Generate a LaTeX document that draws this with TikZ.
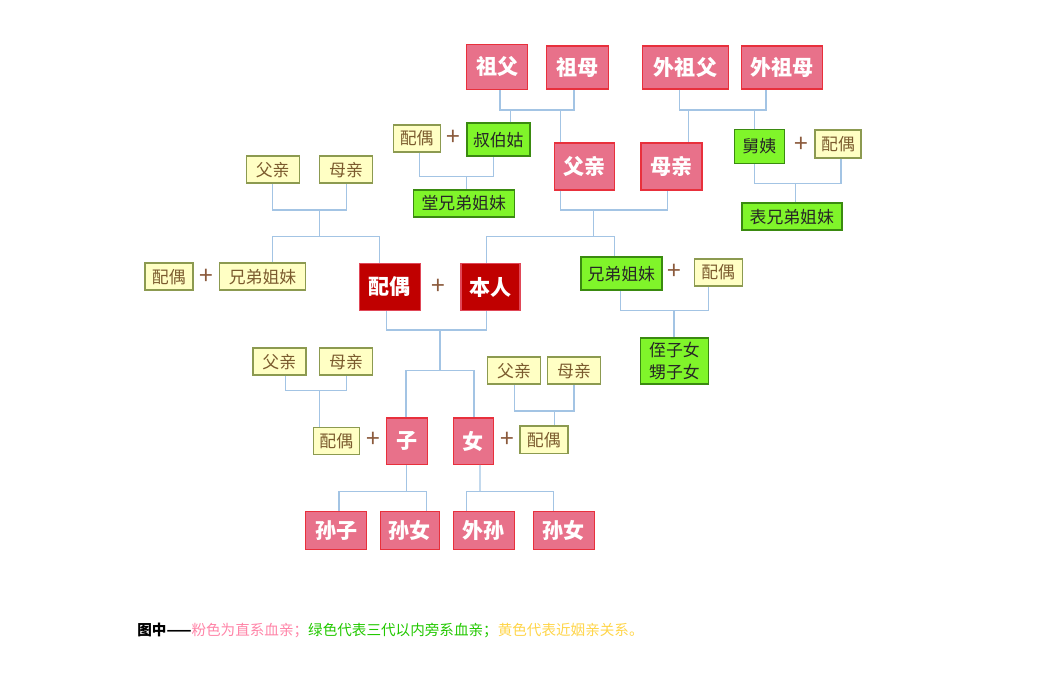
\documentclass[tikz,border=0pt]{standalone}
\usepackage{fontspec}
\setmainfont{Noto Sans CJK SC}
\usepackage{xcolor}
\usetikzlibrary{calc}

\definecolor{pinkfill}{HTML}{E8718A}
\definecolor{pinkline}{HTML}{E8303C}
\definecolor{redfill}{HTML}{C00000}
\definecolor{redline}{HTML}{E04858}
\definecolor{greenfill}{HTML}{80F52A}
\definecolor{greenline}{HTML}{3A8A10}
\definecolor{yellowfill}{HTML}{FFFFC4}
\definecolor{yellowline}{HTML}{8C9A50}
\definecolor{yellowtext}{HTML}{7B5B2E}
\definecolor{linkblue}{HTML}{A3C4E4}
\definecolor{plusbrown}{HTML}{8B5A3C}
\definecolor{notepink}{HTML}{FF85A8}
\definecolor{notegreen}{HTML}{22C800}
\definecolor{noteyellow}{HTML}{FFD54A}

\begin{document}
\begin{tikzpicture}[
    x=0.02cm, y=-0.02cm,
    sz/.style 2 args={minimum width=#1*0.02cm, minimum height=#2*0.02cm},
    base/.style={rectangle, draw, inner sep=0pt, line width=0.8pt, align=center},
    direct/.style={base, fill=pinkfill, draw=pinkline, text=white, font=\fontsize{12}{13}\selectfont\bfseries},
    self/.style={base, fill=redfill, draw=redline, text=white, font=\fontsize{12}{13}\selectfont\bfseries},
    kin/.style={base, fill=greenfill, draw=greenline, text=black!85, font=\fontsize{9.6}{11.2}\selectfont},
    inlaw/.style={base, fill=yellowfill, draw=yellowline, text=yellowtext, font=\fontsize{9.6}{11}\selectfont},
    plus/.style={text=plusbrown, inner sep=0pt, font=\fontsize{14}{14}\selectfont},
    link/.style={draw=linkblue, line width=0.8pt}
]
\useasboundingbox (0,0) rectangle (1051,689);

% Nodes: grandparents
\node[direct, sz={61}{45}] (zf) at (497.2,67) {祖父};
\node[direct, sz={62}{43}] (zm) at (577.5,67.5) {祖母};
\node[direct, sz={86}{43}] (wzf) at (685.5,67.5) {外祖父};
\node[direct, sz={81}{43}] (wzm) at (782.2,67.5) {外祖母};

% Nodes: parents' generation
\node[inlaw, sz={47}{27}] (po1) at (416.7,138.3) {配偶};
\node[plus] (plus1) at (453,138) {+};
\node[kin, sz={63}{33}] (sbg) at (498.3,139.7) {叔伯姑};
\node[direct, sz={60}{47}] (fq) at (584.2,166.3) {父亲};
\node[direct, sz={61}{47}] (mq) at (671.3,166.3) {母亲};
\node[kin, sz={50}{34}] (jy) at (759.3,146.3) {舅姨};
\node[plus] (plus2) at (801.7,145) {+};
\node[inlaw, sz={46}{28}] (po2) at (838,144) {配偶};
\node[kin, sz={101}{27}] (tx) at (463.7,203.3) {堂兄弟姐妹};
\node[kin, sz={100}{27}] (bx) at (791.8,216.7) {表兄弟姐妹};

% Nodes: spouse's parents
\node[inlaw, sz={53}{27}] (lfq) at (272.7,169.7) {父亲};
\node[inlaw, sz={53}{27}] (lmq) at (346,169.7) {母亲};

% Nodes: own generation
\node[inlaw, sz={48}{27}] (po3) at (168.8,276.7) {配偶};
\node[plus] (plus3) at (206,277) {+};
\node[inlaw, sz={86}{27}] (lxd) at (262.5,276.7) {兄弟姐妹};
\node[self, sz={61}{47}] (spouse) at (389.7,287) {配偶};
\node[plus] (plus4) at (438.3,287) {+};
\node[self, sz={59}{47}] (me) at (490.3,287) {本人};
\node[kin, sz={81}{33}] (xd) at (621.3,273.7) {兄弟姐妹};
\node[plus] (plus5) at (674.3,272) {+};
\node[inlaw, sz={48}{27}] (po4) at (718.2,272.3) {配偶};
\node[kin, sz={68}{46}] (zn) at (674.5,360.8) {侄子女\\[1pt]甥子女};

% Nodes: children and their in-laws
\node[inlaw, sz={53}{27}] (bfq) at (279.3,361.7) {父亲};
\node[inlaw, sz={53}{27}] (bmq) at (346,361.7) {母亲};
\node[inlaw, sz={53}{27}] (rfq) at (514,370.7) {父亲};
\node[inlaw, sz={53}{27}] (rmq) at (574,370.7) {母亲};
\node[inlaw, sz={46}{27}] (po5) at (336.3,440.8) {配偶};
\node[plus] (plus6) at (373.3,440) {+};
\node[direct, sz={41}{46}] (son) at (406.7,441.2) {子};
\node[direct, sz={40}{46}] (dau) at (473.3,441.2) {女};
\node[plus] (plus7) at (507.3,440) {+};
\node[inlaw, sz={48}{27}] (po6) at (543.8,439.7) {配偶};

% Nodes: grandchildren
\node[direct, sz={61}{38}] (sz1) at (336.2,530.5) {孙子};
\node[direct, sz={59}{38}] (sn1) at (409.7,530.5) {孙女};
\node[direct, sz={61}{38}] (ws) at (483.7,530.5) {外孙};
\node[direct, sz={61}{38}] (sn2) at (563.8,530.5) {孙女};

% Junctions
\coordinate (jg) at (537,110);
\coordinate (jw) at (722,110);
\coordinate (jt) at (466.7,176.7);
\coordinate (jb) at (795.7,183.3);
\coordinate (jp) at (593.3,210);
\coordinate (js) at (593.3,236.7);
\coordinate (jl) at (319.3,210);
\coordinate (jl2) at (319.3,236.7);
\coordinate (jc) at (440,330);
\coordinate (jc2) at (440,370.7);
\coordinate (jn) at (674,310.7);
\coordinate (jbq) at (319.3,390.7);
\coordinate (jrq) at (554.3,411);
\coordinate (jsn) at (406.7,491.7);
\coordinate (jdt) at (480,491.7);

% Lines
\draw[link] ($(zf.south)+(2.8,0)$) |- (jg) -| ($(zm.south)+(-3.5,0)$);
\draw[link] ($(sbg.north)+(12.4,0)$) |- (jg);
\draw[link] ($(fq.north)+(-23.5,0)$) |- (jg);
\draw[link] ($(wzf.south)+(-6.2,0)$) |- (jw) -| ($(wzm.south)+(-16.2,0)$);
\draw[link] ($(mq.north)+(17,0)$) |- (jw);
\draw[link] ($(jy.north)+(-5,0)$) |- (jw);
\draw[link] ($(po1.south)+(2.6,0)$) |- (jt) -| ($(sbg.south)+(-5,0)$);
\draw[link] (jt) -- (jt |- tx.north);
\draw[link] ($(jy.south)+(-5,0)$) |- (jb) -| ($(po2.south)+(3,0)$);
\draw[link] (jb) -- (jb |- bx.north);
\draw[link] ($(fq.south)+(-23.5,0)$) |- (jp) -| ($(mq.south)+(-4,0)$);
\draw[link] (jp) -- (js);
\draw[link] ($(me.north)+(-3.6,0)$) |- (js) -| ($(xd.north)+(-7,0)$);
\draw[link] (lfq.south) |- (jl) -| ($(lmq.south)+(0.7,0)$);
\draw[link] (jl) -- (jl2);
\draw[link] ($(lxd.north)+(10.2,0)$) |- (jl2) -| ($(spouse.north)+(-10.4,0)$);
\draw[link] ($(spouse.south)+(-3,0)$) |- (jc) -| ($(me.south)+(-3.6,0)$);
\draw[link] (jc) -- (jc2);
\draw[link] ($(son.north)+(-0.7,0)$) |- (jc2) -| ($(dau.north)+(0.7,0)$);
\draw[link] ($(xd.south)+(-0.6,0)$) |- (jn) -| ($(po4.south)+(-9.9,0)$);
\draw[link] (jn) -- (jn |- zn.north);
\draw[link] ($(bfq.south)+(6.4,0)$) |- (jbq) -| ($(bmq.south)+(0.7,0)$);
\draw[link] (jbq) -- (jbq |- po5.north);
\draw[link] ($(rfq.south)+(0.3,0)$) |- (jrq) -| (rmq.south);
\draw[link] (jrq) -- (jrq |- po6.north);
\draw[link] (son.south) -- (jsn);
\draw[link] ($(sz1.north)+(2.8,0)$) |- (jsn) -| ($(sn1.north)+(17,0)$);
\draw[link] ($(dau.south)+(6.7,0)$) -- (jdt);
\draw[link] ($(ws.north)+(-17,0)$) |- (jdt) -| ($(sn2.north)+(-10.5,0)$);

% Legend
\node[anchor=west, inner sep=0pt, font=\fontsize{8.3}{10}\selectfont] (note) at (137,630)
  {\textbf{图中——}\textcolor{notepink}{粉色为直系血亲；}\textcolor{notegreen}{绿色代表三代以内旁系血亲；}\textcolor{noteyellow}{黄色代表近姻亲关系。}};

\end{tikzpicture}
\end{document}
